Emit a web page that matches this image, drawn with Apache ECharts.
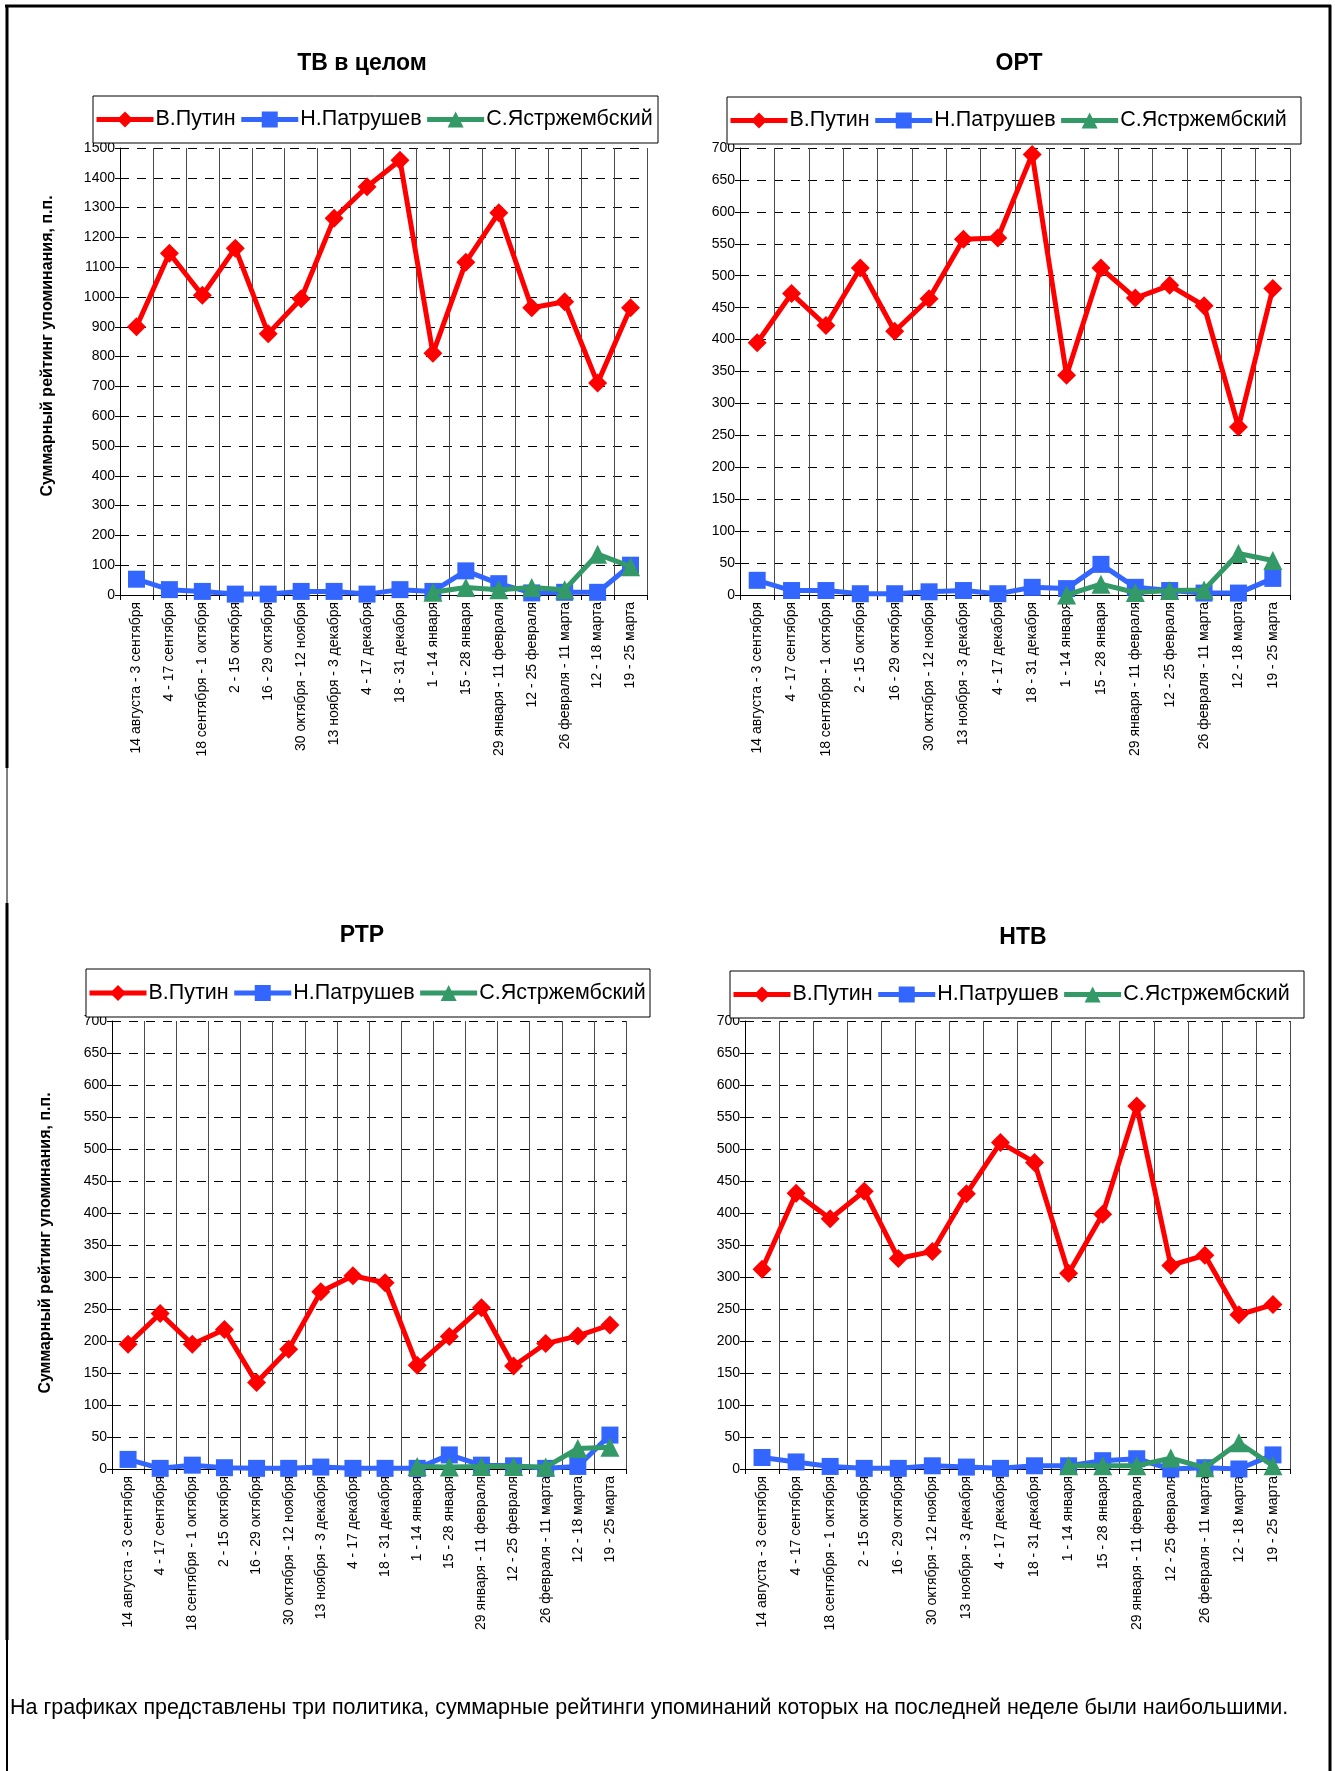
<!DOCTYPE html>
<html>
<head>
<meta charset="utf-8">
<script src="https://cdn.jsdelivr.net/npm/echarts@6/dist/echarts.min.js"></script>
<style>
html,body{margin:0;padding:0;background:#fff;}
#c{width:1335px;height:1771px;}
</style>
</head>
<body>
<div id="c"></div>
<script>
const categories = [
  '14 августа - 3 сентября', '4 - 17 сентября', '18 сентября - 1 октября', '2 - 15 октября',
  '16 - 29 октября', '30 октября - 12 ноября', '13 ноября - 3 декабря', '4 - 17 декабря',
  '18 - 31 декабря', '1 - 14 января', '15 - 28 января', '29 января - 11 февраля',
  '12 - 25 февраля', '26 февраля - 11 марта', '12 - 18 марта', '19 - 25 марта'
];
const seriesNames = ['В.Путин', 'Н.Патрушев', 'С.Ястржембский'];
const chartTitles = ['ТВ в целом', 'ОРТ', 'РТР', 'НТВ'];
const yAxisName = 'Суммарный рейтинг упоминания, п.п.';
const footnote = 'На графиках представлены три политика, суммарные рейтинги упоминаний которых на последней неделе были наибольшими.';

// ТВ в целом
const tvPutin = [900, 1147, 1006, 1164, 877, 994, 1264, 1370, 1459, 811, 1117, 1283, 964, 984, 711, 964];
const tvPatrushev = [53, 18, 12, 3, 3, 12, 12, 3, 18, 12, 81, 38, 7, 9, 9, 100];
const tvYastr = [null, null, null, null, null, null, null, null, null, 9, 25, 18, 25, 18, 137, 95];
// ОРТ
const ortPutin = [395, 472, 422, 512, 413, 464, 557, 559, 690, 344, 512, 465, 485, 453, 263, 480];
const ortPatrushev = [23, 7, 7, 2, 2, 5, 7, 2, 12, 10, 48, 12, 7, 3, 3, 26];
const ortYastr = [null, null, null, null, null, null, null, null, null, 0, 17, 4, 7, 8, 65, 54];
// РТР
const rtrPutin = [195, 243, 195, 218, 135, 187, 277, 302, 291, 162, 207, 252, 161, 196, 208, 225];
const rtrPatrushev = [15, 1, 6, 2, 1, 1, 3, 1, 1, 1, 22, 6, 5, 1, 4, 53];
const rtrYastr = [null, null, null, null, null, null, null, null, null, 4, 3, 4, 4, 3, 32, 34];
// НТВ
const ntvPutin = [312, 431, 391, 434, 329, 340, 430, 510, 479, 306, 398, 567, 318, 334, 241, 257];
const ntvPatrushev = [18, 11, 4, 1, 1, 5, 3, 1, 5, 5, 13, 16, 0, 2, 0, 22];
const ntvYastr = [null, null, null, null, null, null, null, null, null, 5, 5, 5, 17, 2, 41, 5];

const yMaxes = [1500, 700, 700, 700];
const yIntervals = [100, 50, 50, 50];

const FONT = "'Liberation Sans', Arial, sans-serif";
const colors = ['#FF0000', '#3366FF', '#339966'];
const symbols = ['diamond', 'square', 'triangle'];
const symbolSizes = [19, 17, 19];

// layout of the four panels (pixels)
const layout = [
  {grid: {left: 120, top: 148, width: 527, height: 447}, legendBox: [93, 96, 565, 47], title: [362, 64], yName: [48, 346]},
  {grid: {left: 740, top: 148, width: 550, height: 447}, legendBox: [727, 97, 574, 47], title: [1019, 64], yName: null},
  {grid: {left: 112, top: 1021, width: 514, height: 448}, legendBox: [86, 969, 564, 48], title: [362, 936], yName: [46, 1243]},
  {grid: {left: 745, top: 1021, width: 545, height: 448}, legendBox: [730, 971, 574, 47], title: [1023, 938], yName: null}
];
const dataSets = [
  [tvPutin, tvPatrushev, tvYastr],
  [ortPutin, ortPatrushev, ortYastr],
  [rtrPutin, rtrPatrushev, rtrYastr],
  [ntvPutin, ntvPatrushev, ntvYastr]
];

const grids = [], xAxes = [], yAxes = [], series = [], legends = [], graphics = [];

layout.forEach((L, i) => {
  grids.push(Object.assign({containLabel: false}, L.grid));
  xAxes.push({
    type: 'category', gridIndex: i, data: categories, boundaryGap: true,
    axisLine: {show: true, lineStyle: {color: '#000', width: 1}},
    axisTick: {show: true, length: 5, inside: false, lineStyle: {color: '#000'}},
    axisLabel: {interval: 0, rotate: 90, fontSize: 14, fontFamily: FONT, color: '#000', margin: 7},
    splitLine: {show: true, lineStyle: {color: '#4a4a4a', width: 1, type: 'solid'}}
  });
  yAxes.push({
    type: 'value', gridIndex: i, min: 0, max: yMaxes[i], interval: yIntervals[i],
    axisLine: {show: true, lineStyle: {color: '#000', width: 1}},
    axisTick: {show: true, length: 5, inside: false, lineStyle: {color: '#000'}},
    axisLabel: {fontSize: 14, fontFamily: FONT, color: '#000', margin: 5, formatter: v => String(v)},
    splitLine: {show: true, lineStyle: {color: '#000', width: 1, type: [9, 8]}}
  });
  dataSets[i].forEach((d, k) => {
    series.push({
      type: 'line', name: seriesNames[k], xAxisIndex: i, yAxisIndex: i, data: d,
      symbol: symbols[k], symbolSize: symbolSizes[k], showSymbol: true,
      lineStyle: {color: colors[k], width: 5},
      itemStyle: {color: colors[k]},
      connectNulls: false, z: 2 + k
    });
  });
  const lb = L.legendBox;
  graphics.push({
    type: 'rect', shape: {x: lb[0], y: lb[1], width: lb[2], height: lb[3]},
    style: {fill: '#fff', stroke: '#000', lineWidth: 1}, z: 1
  });
  legends.push({
    data: seriesNames, orient: 'horizontal', left: lb[0] + 1, top: lb[1] + lb[3] / 2 - 11,
    itemWidth: 57, itemHeight: 20, itemGap: 3, padding: 0, selectedMode: false,
    lineStyle: {width: 5},
    textStyle: {fontSize: 21.5, fontFamily: FONT, color: '#000', padding: [0, 0, 0, -3]}
  });
  graphics.push({
    type: 'text', x: L.title[0], y: L.title[1], z: 5,
    style: {text: chartTitles[i], font: 'bold 23px ' + FONT, fill: '#000', textAlign: 'center', textVerticalAlign: 'middle'}
  });
  if (L.yName) {
    graphics.push({
      type: 'text', x: L.yName[0], y: L.yName[1], rotation: Math.PI / 2, z: 5,
      style: {text: yAxisName, font: 'bold 16px ' + FONT, fill: '#000', textAlign: 'center', textVerticalAlign: 'middle'}
    });
  }
});

// page frame
const frame = [
  [5, 6, 1331, 6, 3],
  [1330, 5, 1330, 1771, 3],
  [7, 5, 7, 768, 3],
  [7, 768, 7, 903, 1],
  [7, 903, 7, 1640, 3],
  [7, 1640, 7, 1771, 2]
];
frame.forEach(f => {
  graphics.push({type: 'line', shape: {x1: f[0], y1: f[1], x2: f[2], y2: f[3]}, style: {stroke: '#000', lineWidth: f[4]}, z: 10});
});
graphics.push({
  type: 'text', x: 10, y: 1708, z: 5,
  style: {text: footnote, font: '21.5px ' + FONT, fill: '#000', textAlign: 'left', textVerticalAlign: 'middle'}
});

const chart = echarts.init(document.getElementById('c'), null, {renderer: 'canvas'});
chart.setOption({
  animation: false,
  backgroundColor: '#fff',
  grid: grids, xAxis: xAxes, yAxis: yAxes, series: series, legend: legends, graphic: graphics
});
</script>
</body>
</html>
